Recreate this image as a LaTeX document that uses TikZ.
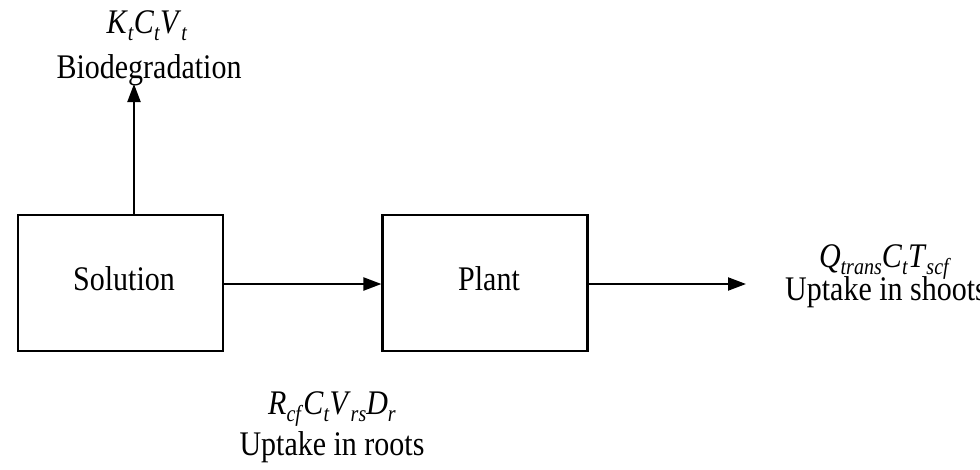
\documentclass[tikz,border=0pt]{standalone}
\usepackage{fontspec}
\usepackage{graphicx}
\setmainfont{Liberation Serif}
\usetikzlibrary{arrows.meta}
\newcommand\lowsub[1]{\raisebox{-0.22em}{\fontsize{20}{20}\selectfont\textit{#1}}}
\newcommand\tall[1]{\scalebox{1}[1.15]{#1}}
\tikzset{
  box/.style={draw, line width=2.1pt, minimum width=205pt, minimum height=136pt, inner sep=0pt},
  lbl/.style={anchor=base, inner sep=0pt, font=\fontsize{30}{30}\selectfont},
  conn/.style={line width=2.1pt, -{Triangle[length=18pt,width=13pt]}}
}
\begin{document}
\begin{tikzpicture}[x=1pt,y=-1pt]
\useasboundingbox (0,0) rectangle (980,469);
\node[box] (sol) at (120.5,283) {};
\node[lbl] (soltxt) at (124,290) {\tall{Solution}};
\node[box] (plant) at (485,283) {};
\node[lbl] (planttxt) at (489,290) {\tall{Plant}};
\coordinate (top) at (134,84);
\coordinate (out) at (746,284);
\node[lbl] (kt) at (147,33) {\tall{\textit{K}\lowsub{t}\textit{C}\lowsub{t}\textit{V}\lowsub{t}}};
\node[lbl] (bio) at (149,78) {\tall{Biodegradation}};
\node[lbl] (q) at (885,267) {\tall{\textit{Q}\lowsub{trans}\textit{C}\lowsub{t}\textit{T}\lowsub{scf}}};
\node[lbl, anchor=base west] (shoots) at (785,300) {\tall{Uptake in shoots}};
\node[lbl] (r) at (332,414) {\tall{\textit{R}\lowsub{cf}\textit{C}\lowsub{t}\textit{V}\lowsub{rs}\textit{D}\lowsub{r}}};
\node[lbl] (roots) at (332,455) {\tall{Uptake in roots}};
\draw[conn] (sol.north -| top) -- (top);
\draw[conn] (sol.east |- out) -- (plant.west |- out);
\draw[conn] (plant.east |- out) -- (out);
\end{tikzpicture}
\end{document}
